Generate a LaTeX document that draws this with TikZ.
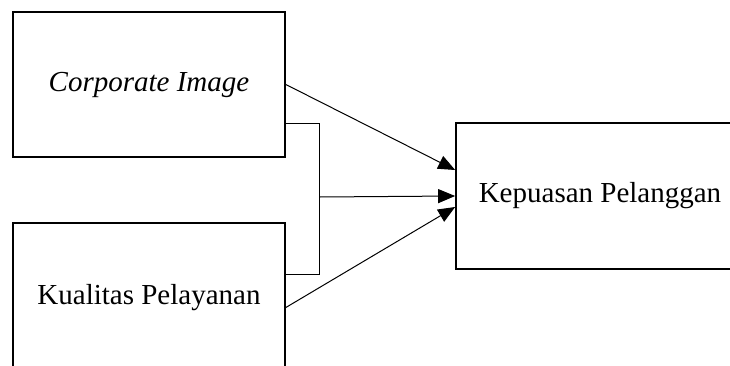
\documentclass[tikz,border=0pt]{standalone}
\usepackage{fontspec}
\setmainfont{Liberation Serif}
\usetikzlibrary{arrows.meta}
\begin{document}
\begin{tikzpicture}[x=1pt,y=-1pt,
  box/.style={draw=black,line width=1.7pt,inner sep=0pt,font=\fontsize{29}{34}\selectfont},
  conn/.style={line width=1pt},
  arr/.style={conn,-{Triangle[length=17pt,width=14pt]}}]
\useasboundingbox (0,0) rectangle (730,365);
\clip (0,0) rectangle (730,365);
\node[box,minimum width=272pt,minimum height=145pt] (b1) at (149,84.5) {\itshape Corporate Image};
\node[box,minimum width=272pt,minimum height=150pt] (b2) at (149,298) {};
\node[font=\fontsize{29}{34}\selectfont] (t2) at (149,298) {Kualitas Pelayanan};
\node[box,minimum width=290pt,minimum height=146pt] (b3) at (601,196) {};
\node[font=\fontsize{29}{34}\selectfont] (t3) at (600,196) {Kepuasan Pelanggan};
\coordinate (k1) at (319,123);
\coordinate (k2) at (319,274);
\coordinate (km) at (319,197);
\coordinate (s2) at (285,308);
\draw[arr] (b1.east) -- ([yshift=26pt]b3.west);
\draw[conn] (b1.east |- k1) -- (k1) -- (k2) -- (b2.east |- k2);
\draw[arr] (km) -- (b3.west);
\draw[arr] (s2) -- ([yshift=-11pt]b3.west);
\end{tikzpicture}
\end{document}
